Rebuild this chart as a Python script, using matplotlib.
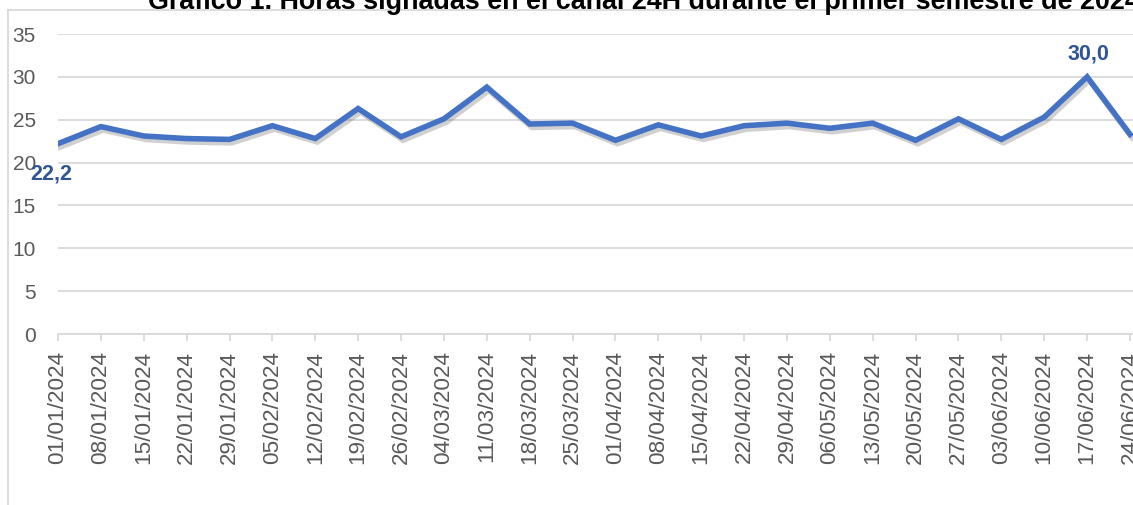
import matplotlib
matplotlib.use("Agg")
import matplotlib.pyplot as plt
import matplotlib.patheffects as pe
from matplotlib.lines import Line2D

# weekly dates and assigned hours in the 24H channel
dates = [
    "01/01/2024", "08/01/2024", "15/01/2024", "22/01/2024", "29/01/2024",
    "05/02/2024", "12/02/2024", "19/02/2024", "26/02/2024", "04/03/2024",
    "11/03/2024", "18/03/2024", "25/03/2024", "01/04/2024", "08/04/2024",
    "15/04/2024", "22/04/2024", "29/04/2024", "06/05/2024", "13/05/2024",
    "20/05/2024", "27/05/2024", "03/06/2024", "10/06/2024", "17/06/2024",
    "24/06/2024",
]
hours = [
    22.2, 24.2, 23.1, 22.8, 22.7,
    24.3, 22.8, 26.3, 23.0, 25.1,
    28.8, 24.5, 24.6, 22.6, 24.4,
    23.1, 24.3, 24.6, 24.0, 24.6,
    22.6, 25.1, 22.7, 25.3, 30.0,
    23.3,
]
yticks = [0, 5, 10, 15, 20, 25, 30, 35]

W, H = 1133, 505
LINE_BLUE = "#4472C4"
LABEL_BLUE = "#2F5597"
GRID = "#D9D9D9"
TEXT = "#595959"
FONT = ["Liberation Sans", "DejaVu Sans"]

fig = plt.figure(figsize=(W / 100, H / 100), dpi=100)
plt.rcParams["font.family"] = FONT

left_px, right_px, top_px, bottom_px = 58, 1133, 34, 334
ax = fig.add_axes([
    left_px / W, 1 - bottom_px / H,
    (right_px - left_px) / W, (bottom_px - top_px) / H,
])

x = list(range(len(hours)))
ax.plot(
    x, hours, color=LINE_BLUE, linewidth=4.0, solid_joinstyle="miter",
    path_effects=[
        pe.SimpleLineShadow(offset=(1.5, -2.5), shadow_color="#7a7a7a", alpha=0.35),
        pe.Normal(),
    ],
    zorder=3,
)

# data labels on first point and maximum
ax.annotate("22,2", (0, hours[0]), xytext=(-7, -30), textcoords="offset pixels",
            ha="center", va="center", fontsize=15.5, fontweight="bold",
            color=LABEL_BLUE, annotation_clip=False, zorder=4)
imax = hours.index(max(hours))
ax.annotate(f"{hours[imax]:.1f}".replace(".", ","), (imax, hours[imax]),
            xytext=(1, 23), textcoords="offset pixels",
            ha="center", va="center", fontsize=15.5, fontweight="bold",
            color=LABEL_BLUE, zorder=4)

span = (right_px - left_px) / ((1130 - left_px) / 25)
ax.set_xlim(0, span)
ax.set_ylim(0, 35)
ax.set_yticks(yticks)
ax.set_xticks(x)
ax.set_xticklabels(dates, rotation=90)
ax.grid(axis="y", color=GRID, linewidth=1.3)
ax.set_axisbelow(True)
for side in ["top", "right", "left"]:
    ax.spines[side].set_visible(False)
ax.spines["bottom"].set_color(GRID)
ax.spines["bottom"].set_linewidth(1.3)
ax.tick_params(axis="y", length=0, pad=16, labelsize=15, labelcolor=TEXT)
ax.tick_params(axis="x", length=5, width=1.3, color=GRID, pad=7,
               labelsize=16.2, labelcolor=TEXT)

# chart area border (cropped on the right and bottom)
fig.add_artist(Line2D([8 / W, 8 / W], [0, 1 - 10 / H], color=GRID,
                      linewidth=1.3, transform=fig.transFigure))
fig.add_artist(Line2D([8 / W, 1], [1 - 10 / H, 1 - 10 / H], color=GRID,
                      linewidth=1.3, transform=fig.transFigure))

fig.text(148 / W, 1 - 9 / H,
         "Gráfico 1. Horas signadas en el canal 24H durante el primer semestre de 2024",
         ha="left", va="baseline", fontsize=19.4, fontweight="bold", color="black")

fig.savefig("out.png", dpi=100)
